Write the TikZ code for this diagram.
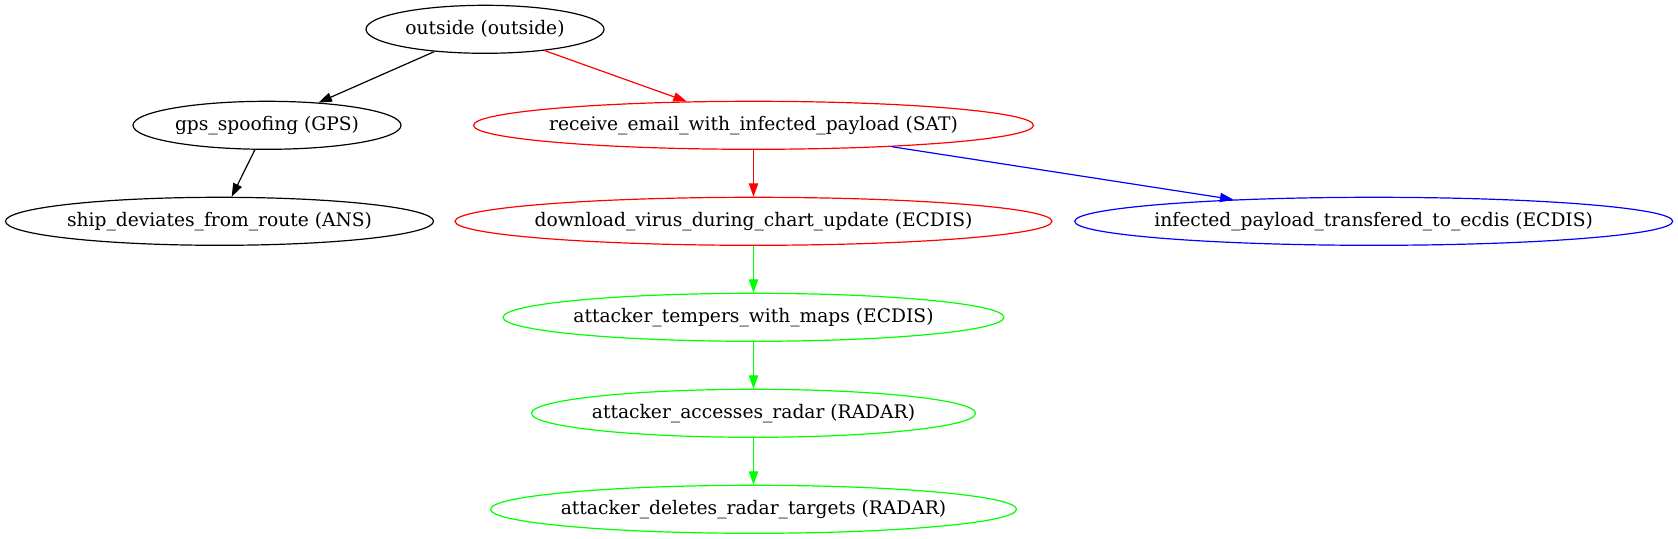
\documentclass[tikz,border=0pt]{standalone}
\usepackage{fontspec}
\setmainfont{DejaVu Serif}
\usetikzlibrary{shapes.geometric,arrows.meta}
\definecolor{gvred}{RGB}{255,0,0}
\definecolor{gvgreen}{RGB}{0,255,0}
\definecolor{gvblue}{RGB}{0,0,255}
\begin{document}
\begin{tikzpicture}[x=0.75pt,y=-0.75pt,
  gvnode/.style={ellipse,draw,line width=0.9pt,inner sep=0pt,minimum height=36pt,
    font=\fontsize{14pt}{16pt}\selectfont},
  gvedge/.style={line width=0.9pt,-{Triangle[length=10pt,width=7pt]}},
]
\useasboundingbox (0,0) rectangle (1678,539);
\newcommand{\gvlbl}[1]{\makebox[0pt]{#1}}
\node[gvnode,minimum width=178.5pt] (out) at (485,29.3) {\gvlbl{outside (outside)}};
\node[gvnode,minimum width=201pt] (gps) at (267,125.3) {\gvlbl{gps\_spoofing (GPS)}};
\node[gvnode,draw=gvred,minimum width=420pt] (rec) at (753.5,125.3) {\gvlbl{receive\_email\_with\_infected\_payload (SAT)}};
\node[gvnode,minimum width=321pt] (ship) at (219.5,221.3) {\gvlbl{ship\_deviates\_from\_route (ANS)}};
\node[gvnode,draw=gvred,minimum width=447.75pt] (dl) at (753.5,221.3) {\gvlbl{download\_virus\_during\_chart\_update (ECDIS)}};
\node[gvnode,draw=gvblue,minimum width=448.5pt] (inf) at (1373.7,221.3) {\gvlbl{infected\_payload\_transfered\_to\_ecdis (ECDIS)}};
\node[gvnode,draw=gvgreen,minimum width=375.6pt] (temp) at (753.5,317.3) {\gvlbl{attacker\_tempers\_with\_maps (ECDIS)}};
\node[gvnode,draw=gvgreen,minimum width=333pt] (acc) at (753.5,413.3) {\gvlbl{attacker\_accesses\_radar (RADAR)}};
\node[gvnode,draw=gvgreen,minimum width=394.5pt] (del) at (753.5,509.3) {\gvlbl{attacker\_deletes\_radar\_targets (RADAR)}};
\draw[gvedge] (out) -- (gps);
\draw[gvedge,gvred] (out) -- (rec);
\draw[gvedge] (gps) -- (ship);
\draw[gvedge,gvred] (rec) -- (dl);
\draw[gvedge,gvblue] (rec) -- (inf);
\draw[gvedge,gvgreen] (dl) -- (temp);
\draw[gvedge,gvgreen] (temp) -- (acc);
\draw[gvedge,gvgreen] (acc) -- (del);
\end{tikzpicture}
\end{document}
